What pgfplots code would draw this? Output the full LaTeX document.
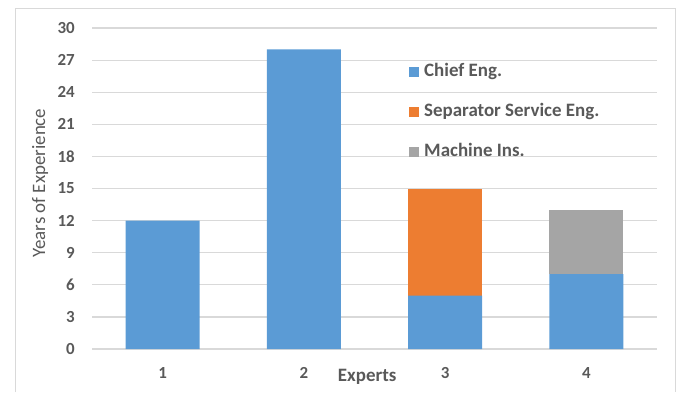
\documentclass[border=0pt]{standalone}
\usepackage{pgfplots}
\pgfplotsset{compat=1.18}
\usepackage{fontspec}
\setmainfont{Carlito}
\definecolor{cblue}{HTML}{5B9BD5}
\definecolor{corange}{HTML}{ED7D31}
\definecolor{cgray}{HTML}{A5A5A5}
\definecolor{ctext}{HTML}{595959}
\definecolor{cgrid}{HTML}{D9D9D9}
\begin{document}
\begin{tikzpicture}[x=1bp,y=1bp]
\useasboundingbox (0,0) rectangle (679,392);
\draw[cgrid, line width=1.2bp] (15.5,0) -- (15.5,383.5) -- (675.5,383.5) -- (675.5,0);
\begin{axis}[
  at={(92bp,43bp)}, anchor=south west,
  scale only axis, width=565bp, height=321bp,
  ybar stacked, bar width=74bp,
  xmin=0.5, xmax=4.5, ymin=0, ymax=30,
  xtick={1,2,3,4}, xticklabels={1,2,3,4},
  ytick={0,3,...,30},
  /pgf/number format/assume math mode=true,
  axis line style={draw=none},
  major tick length=0pt,
  ymajorgrids, grid style={cgrid, line width=1.2bp},
  tick label style={font=\fontsize{17}{20}\selectfont\bfseries, text=ctext},
  xticklabel style={anchor=base, yshift=-29bp},
  yticklabel style={anchor=east, inner sep=0pt, xshift=-17bp},
  xlabel={Experts}, ylabel={Years of Experience},
  xlabel style={at={(axis description cs:0.487,0)}, anchor=base, yshift=-32bp, font=\fontsize{19}{22}\selectfont\bfseries, text=ctext},
  ylabel style={at={(axis description cs:-0.092,0.517)}, anchor=center, font=\fontsize{19}{22}\selectfont, text=ctext},
  legend style={at={(317bp,286bp)}, anchor=north west, draw=none, fill=none, inner sep=0pt,
    font=\fontsize{19}{22}\selectfont\bfseries, text=ctext, row sep=23bp,
    nodes={inner sep=0pt, text height=13bp, text depth=4bp},
    /tikz/every odd column/.append style={column sep=5bp}},
  legend cell align=left,
  legend image code/.code={\fill[#1] (0bp,-5bp) rectangle (10bp,5bp);},
]
\addplot[fill=cblue, draw=none] coordinates {(1,12) (2,28) (3,5) (4,7)};
\addplot[fill=corange, draw=none] coordinates {(1,0) (2,0) (3,10) (4,0)};
\addplot[fill=cgray, draw=none] coordinates {(1,0) (2,0) (3,0) (4,6)};
\legend{Chief Eng., Separator Service Eng., Machine Ins.}
\end{axis}
\end{tikzpicture}
\end{document}
